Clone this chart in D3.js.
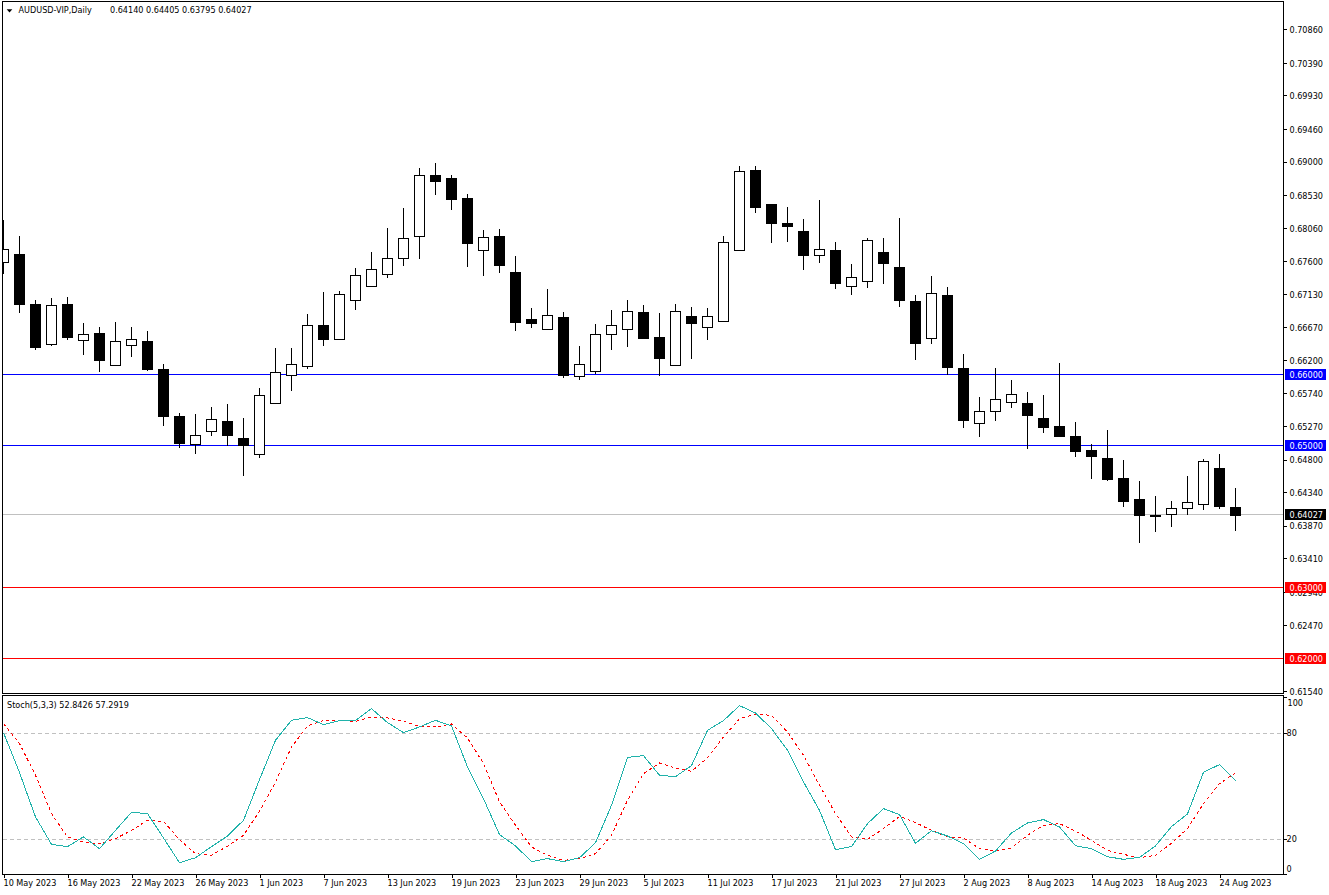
<!DOCTYPE html>
<html lang="en">
<head>
  <meta charset="utf-8" />
  <title>AUDUSD-VIP Daily</title>
  <style>
    html,body{margin:0;background:#fff;}
    svg{display:block;}
    text{font-family:"DejaVu Sans Condensed","DejaVu Sans",sans-serif;font-stretch:condensed;font-size:9px;fill:#000;}
    .badge text{fill:#fff;}
  </style>
</head>
<body>
  <svg id="chart" width="1329" height="895"></svg>
  <script src="https://d3js.org/d3.v7.min.js"></script>
  <script>
    // ————— DATA —————
    const opens = [.67591,.67704,.66990,.66436,.66990,.66492,.66581,.66140,.66422,.66469,.66074,.65412,.65027,.65211,.65351,.65103,.64887,.65605,.65999,.66126,.66694,.66506,.67056,.67253,.67422,.67647,.67957,.68807,.68765,.68483,.67760,.67948,.67441,.66779,.66647,.66807,.65985,.66056,.66577,.66647,.66877,.66525,.66140,.66821,.66675,.66760,.67755,.68877,.68398,.68131,.68018,.67689,.67750,.67253,.67323,.67722,.67511,.67032,.66520,.67117,.66089,.65323,.65492,.65619,.65596,.65384,.65272,.65131,.64934,.64821,.64539,.64243,.64018,.64042,.64126,.64182,.64680,.64140];
    const highs = [.68173,.67948,.67046,.67074,.67088,.66722,.66666,.66736,.66666,.66610,.66145,.65455,.65441,.65539,.65581,.65384,.65807,.66370,.66370,.66849,.67159,.67173,.67497,.67722,.68060,.68342,.68905,.68976,.68807,.68539,.68032,.68046,.67666,.66934,.67201,.66877,.66398,.66708,.66905,.67046,.66976,.66863,.66990,.66948,.66934,.67948,.68934,.68934,.68398,.68356,.68187,.68455,.67863,.67553,.67929,.67920,.68201,.67117,.67384,.67229,.66286,.65680,.66089,.65920,.65751,.65708,.66159,.65328,.65018,.65215,.64793,.64497,.64286,.64215,.64567,.64807,.64877,.64405];
    const lows = [.67412,.66868,.66342,.66398,.66483,.66276,.66037,.66117,.66248,.66051,.65276,.64966,.64882,.65135,.64999,.64572,.64825,.65586,.65769,.66079,.66403,.66488,.66910,.67253,.67361,.67530,.67628,.68530,.68314,.67516,.67389,.67431,.66614,.66657,.66647,.65952,.65924,.66004,.66347,.66389,.66516,.65980,.66140,.66215,.66483,.66760,.67755,.68276,.67854,.67868,.67473,.67572,.67206,.67121,.67220,.67276,.66952,.66206,.66431,.65999,.65248,.65121,.65347,.65530,.64952,.65178,.65121,.64840,.64530,.64502,.64135,.63628,.63783,.63854,.64023,.64093,.64107,.63795];
    const closes = [.67774,.66995,.66389,.66985,.66530,.66577,.66206,.66478,.66506,.66079,.65417,.65037,.65154,.65380,.65149,.65004,.65718,.66042,.66154,.66704,.66502,.67140,.67408,.67492,.67647,.67929,.68816,.68727,.68474,.67854,.67943,.67544,.66741,.66727,.66844,.65995,.66154,.66577,.66704,.66901,.66516,.66234,.66901,.66727,.66830,.67873,.68873,.68361,.68135,.68089,.67685,.67774,.67290,.67380,.67901,.67572,.67051,.66445,.67154,.66107,.65361,.65492,.65661,.65732,.65431,.65262,.65136,.64924,.64854,.64530,.64220,.64023,.64009,.64126,.64211,.64788,.64150,.64027];
    const stochMain = [80,57.4,32.3,16.8,15.5,21,14.3,24.7,34.9,34.2,20.4,6.4,9.2,15.5,21.5,30.4,53.4,75.7,87,88.5,84.5,86.8,86.8,93.6,85.7,80,83.2,87,83.8,60.6,42.6,22.3,15.9,7,8.7,7,9.2,17.7,38.9,66,67,55.9,55.1,61.3,81.3,86.8,95.3,91.1,82.3,70,52.1,36,13.8,15.5,28.5,37,33.6,17.4,24.5,21.5,17.2,8.3,13,23.2,28.9,30.8,26.6,16,14.3,9.8,8.3,9.4,15.9,26.8,34,57.6,61.9,52.84];
    const stochSignal = [85.1,73.8,55.9,34.2,21,18.1,17,20,24.7,30.4,29.8,19.4,11.5,10.6,15.7,21.9,35.5,52.1,71.9,83.8,86.8,86.8,86.4,88.9,88.3,86.6,83.4,83.2,84.9,77,62.5,40.8,27.6,15.3,10.6,7.7,8.7,11.5,21.9,41.7,56.8,62.8,60,58.1,65.7,77.6,87.9,90.4,89.8,80.4,67.2,50.2,34.2,21,19.6,25.7,32.6,29.1,24.7,21,20.4,14.3,13,14.7,21.9,27.6,28.5,24.3,19.1,13.4,11.1,9.2,10.6,17.4,25.7,39.8,51.1,57.29];
    const dateTicks = [0,4,8,12,16,20,24,28,32,36,40,44,48,52,56,60,64,68,72,76];
    const dateLabels = ['10 May 2023','16 May 2023','22 May 2023','26 May 2023','1 Jun 2023','7 Jun 2023','13 Jun 2023','19 Jun 2023','23 Jun 2023','29 Jun 2023','5 Jul 2023','11 Jul 2023','17 Jul 2023','21 Jul 2023','27 Jul 2023','2 Aug 2023','8 Aug 2023','14 Aug 2023','18 Aug 2023','24 Aug 2023'];
    const priceTicks = [.7086,.7039,.6993,.6946,.69,.6853,.6806,.676,.6713,.6667,.662,.6574,.6527,.648,.6434,.6387,.6341,.6294,.6247,.6154];
    const stochTicks = [0,20,80,100];
    const stochLevels = [20,80];
    const levels = [{v:.66,c:'#0000ff'},{v:.65,c:'#0000ff'},{v:.64027,c:'#000000',line:'#c0c0c0'},{v:.63,c:'#ff0000'},{v:.62,c:'#ff0000'}];

    // ————— SCALES —————
    const LEFT=2.5, RIGHT=1283.5, MAIN_TOP=1.5, MAIN_BOTTOM=693.5, SUB_TOP=695.5, SUB_BOTTOM=874.5;
    const x = d3.scaleLinear().domain([0,77]).range([3.5,1235.5]);
    const yPrice = d3.scaleLinear().domain([.62,.66]).range([658.5,374.5]);
    const yStoch = d3.scaleLinear().domain([0,100]).range([874,697.3]);
    const fmt = d3.format('.5f');

    const svg = d3.select('#chart');
    svg.append('rect').attr('width',1329).attr('height',895).attr('fill','#fff');
    const defs = svg.append('defs');
    defs.append('clipPath').attr('id','clipMain').append('rect').attr('x',LEFT).attr('y',MAIN_TOP).attr('width',RIGHT-LEFT).attr('height',MAIN_BOTTOM-MAIN_TOP);
    defs.append('clipPath').attr('id','clipSub').append('rect').attr('x',LEFT).attr('y',SUB_TOP).attr('width',RIGHT-LEFT).attr('height',SUB_BOTTOM-SUB_TOP);

    // ————— MAIN WINDOW —————
    const main = svg.append('g').attr('clip-path','url(#clipMain)').attr('shape-rendering','crispEdges');
    main.selectAll('line.level').data(levels).join('line').attr('class','level')
      .attr('x1',LEFT).attr('x2',RIGHT).attr('y1',d=>yPrice(d.v)).attr('y2',d=>yPrice(d.v))
      .attr('stroke',d=>d.line||d.c);

    const idx = d3.range(opens.length);
    main.selectAll('line.wick').data(idx).join('line').attr('class','wick')
      .attr('x1',i=>x(i)).attr('x2',i=>x(i)).attr('y1',i=>yPrice(highs[i])).attr('y2',i=>yPrice(lows[i]))
      .attr('stroke','#000');
    main.selectAll('rect.body').data(idx).join('rect').attr('class','body')
      .attr('x',i=>x(i)-5).attr('width',10)
      .attr('y',i=>Math.round(yPrice(Math.max(opens[i],closes[i])))+.5)
      .attr('height',i=>Math.max(Math.round(Math.abs(yPrice(opens[i])-yPrice(closes[i]))),0))
      .attr('fill',i=>closes[i]>opens[i]?'#fff':'#000')
      .attr('stroke','#000');

    // ————— STOCH WINDOW —————
    const sub = svg.append('g').attr('clip-path','url(#clipSub)').attr('shape-rendering','crispEdges');
    sub.selectAll('line.slevel').data(stochLevels).join('line').attr('class','slevel')
      .attr('x1',LEFT).attr('x2',RIGHT).attr('y1',d=>Math.round(yStoch(d))+.5).attr('y2',d=>Math.round(yStoch(d))+.5)
      .attr('stroke','#c0c0c0').attr('stroke-dasharray','4,3');
    const lineOf = d3.line().x((d,i)=>x(i)).y(d=>yStoch(d));
    sub.append('path').attr('d',lineOf(stochSignal)).attr('fill','none').attr('stroke','#ff0000').attr('stroke-dasharray','3,3');
    sub.append('path').attr('d',lineOf(stochMain)).attr('fill','none').attr('stroke','#20b2aa');

    // ————— AXES & FRAMES —————
    const frames = svg.append('g').attr('fill','none').attr('stroke','#000').attr('shape-rendering','crispEdges');
    frames.append('rect').attr('x',LEFT).attr('y',MAIN_TOP).attr('width',RIGHT-LEFT).attr('height',MAIN_BOTTOM-MAIN_TOP);
    frames.append('rect').attr('x',LEFT).attr('y',SUB_TOP).attr('width',RIGHT-LEFT).attr('height',SUB_BOTTOM-SUB_TOP);

    const priceAxis = svg.append('g').attr('transform',`translate(${RIGHT},0)`)
      .call(d3.axisRight(yPrice).tickValues(priceTicks).tickFormat(fmt).tickSize(3).tickSizeOuter(0));
    priceAxis.select('.domain').remove();
    priceAxis.selectAll('line').attr('shape-rendering','crispEdges');
    priceAxis.selectAll('text').attr('x',6).attr('dy','.36em').attr('font-size',null).attr('font-family',null);

    const stochAxis = svg.append('g').attr('transform',`translate(${RIGHT},0)`)
      .call(d3.axisRight(yStoch).tickValues(stochTicks).tickSize(3).tickSizeOuter(0));
    stochAxis.select('.domain').remove();
    stochAxis.selectAll('line').attr('shape-rendering','crispEdges');
    stochAxis.selectAll('text').attr('x',d=>d===100?4:3).attr('font-size',null).attr('font-family',null)
      .attr('dy',d=>d===100?'.95em':d===0?'-.3em':'.36em');

    const timeAxis = svg.append('g').attr('transform',`translate(0,${SUB_BOTTOM})`)
      .call(d3.axisBottom(x).tickValues(dateTicks).tickFormat((d,i)=>dateLabels[i]).tickSize(3).tickSizeOuter(0));
    timeAxis.select('.domain').remove();
    timeAxis.selectAll('line').attr('shape-rendering','crispEdges');
    timeAxis.selectAll('text').attr('text-anchor','start').attr('x',-.5).attr('y',5).attr('font-size',null).attr('font-family',null);

    // ————— PRICE BADGES —————
    const badge = svg.append('g').attr('class','badge').selectAll('g').data(levels).join('g')
      .attr('transform',d=>`translate(1285,${Math.round(yPrice(d.v))})`);
    badge.append('rect').attr('y',-6).attr('width',41).attr('height',11).attr('fill',d=>d.c);
    badge.append('text').attr('x',4.5).attr('y',0).attr('dy','.3em').text(d=>fmt(d.v));

    // ————— LABELS —————
    svg.append('path').attr('d',d3.symbol(d3.symbolTriangle,14)()).attr('transform','translate(9.5,10.3) rotate(180) scale(1,.7)').attr('fill','#000');
    svg.append('text').attr('x',18.5).attr('y',13).text('AUDUSD-VIP,Daily');
    svg.append('text').attr('x',110).attr('y',13).text('0.64140 0.64405 0.63795 0.64027');
    svg.append('text').attr('x',7).attr('y',708).text('Stoch(5,3,3) 52.8426 57.2919');
  </script>
</body>
</html>
